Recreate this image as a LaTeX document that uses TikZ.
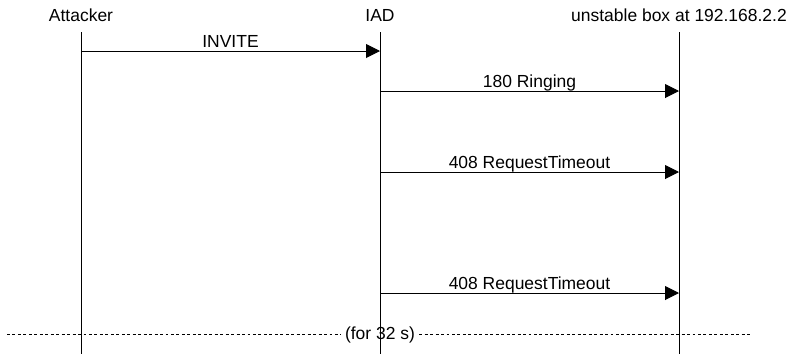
\documentclass[tikz,border=0pt]{standalone}
\usepackage{fontspec}
\setmainfont{Liberation Sans}
\usetikzlibrary{arrows.meta,positioning,calc}
\tikzset{
  actor/.style={inner sep=0pt, anchor=base, font=\fontsize{13.1}{15}\selectfont},
  lifeline/.style={line width=0.75pt},
  msg/.style={-{Triangle[length=10.5pt, width=10.5pt]}, line width=0.75pt},
  msglbl/.style={inner sep=0pt, anchor=base, yshift=2.3pt, font=\fontsize{13.1}{15}\selectfont},
  waitlbl/.style={inner xsep=3pt, inner ysep=0pt, font=\fontsize{13.1}{15}\selectfont},
  pause/.style={dash pattern=on 2.2pt off 1.9pt, line width=0.75pt}
}

\begin{document}
\begin{tikzpicture}[x=0.75pt, y=-0.75pt]
  \useasboundingbox (0,0) rectangle (794,354);
  % actors and their lifelines
  \foreach \n/\x/\txt in {att/81/Attacker, iad/380/IAD, box/679/unstable box at 192.168.2.2} {
    \node[actor] (\n) at (\x,21.5) {\txt};
    \coordinate (\n-top) at (\x,32);
    \coordinate (\n-bot) at (\x,354);
    \draw[lifeline] (\n-top) -- (\n-bot);
  }
  % message rows
  \foreach \r/\y in {1/51,2/91,3/172,4/293} \coordinate (row\r) at (0,\y);
  \draw[msg] (att-top |- row1) -- node[msglbl] {INVITE} (iad-top |- row1);
  \draw[msg] (iad-top |- row2) -- node[msglbl] {180 Ringing} (box-top |- row2);
  \draw[msg] (iad-top |- row3) -- node[msglbl] {408 RequestTimeout} (box-top |- row3);
  \draw[msg] (iad-top |- row4) -- node[msglbl] {408 RequestTimeout} (box-top |- row4);
  % waiting period
  \coordinate (pl) at (7,334);
  \coordinate (pr) at (752,334);
  \node[waitlbl] (wait) at (380,335) {(for 32 s)};
  \draw[pause] (pl) -- (wait.west |- pl);
  \draw[pause] (wait.east |- pr) -- (pr);
\end{tikzpicture}
\end{document}
